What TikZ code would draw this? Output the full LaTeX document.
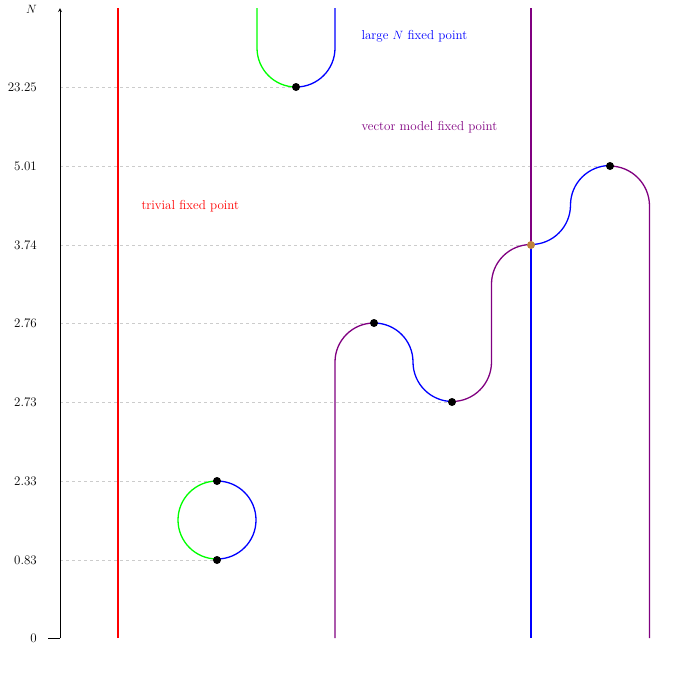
\documentclass[tikz,border=0pt]{standalone}
\begin{document}
\begin{tikzpicture}[x=1pt,y=-1pt,
  grid/.style={gray!40,dashed,line width=0.8pt},
  curve/.style={line width=1.3pt},
  fs/.style={font=\fontsize{13}{15}\selectfont},
  lab/.style={fs,anchor=east,inner sep=1pt},
  dot/.style={circle,fill=black,inner sep=0pt,minimum size=8pt}]
\useasboundingbox (0,0) rectangle (690,683);
\definecolor{pur}{RGB}{128,0,128}
\definecolor{brn}{RGB}{190,130,60}
% grid
\draw[grid] (60,87) -- (296,87);
\draw[grid] (60,166) -- (610,166);
\draw[grid] (60,245) -- (531,245);
\draw[grid] (60,323) -- (374,323);
\draw[grid] (60,402) -- (452,402);
\draw[grid] (60,481) -- (217,481);
\draw[grid] (60,560) -- (217,560);
% axis
\draw[-stealth,line width=0.8pt] (60,638) -- (60,8);
\draw[line width=0.8pt] (48,638) -- (60,638);
\node[lab] at (38,638) {0};
\node[lab] at (38,560) {0.83};
\node[lab] at (38,481) {2.33};
\node[lab] at (38,402) {2.73};
\node[lab] at (38,323) {2.76};
\node[lab] at (38,245) {3.74};
\node[lab] at (38,166) {5.01};
\node[lab] at (38,87) {23.25};
\node[lab] at (38,9) {$N$};
% trivial
\draw[curve,red] (118,638) -- (118,8);
% circle
\draw[curve,green] (217,481) arc[start angle=270,end angle=90,radius=39];
\draw[curve,blue] (217,481) arc[start angle=-90,end angle=90,radius=39];
% top
\draw[curve,green] (257,8) -- (257,48) arc[start angle=180,end angle=90,radius=39];
\draw[curve,blue] (296,87) arc[start angle=90,end angle=0,radius=39] -- (335,8);
% middle chain
\draw[curve,pur] (335,638) -- (335,362) arc[start angle=180,end angle=270,radius=39];
\draw[curve,blue] (374,323) arc[start angle=270,end angle=360,radius=39] arc[start angle=180,end angle=90,radius=39.5];
\draw[curve,pur] (452,401.5) arc[start angle=90,end angle=0,radius=39.5] -- (491.5,284) arc[start angle=180,end angle=270,radius=39.5];
\draw[curve,blue] (531,244.5) arc[start angle=90,end angle=0,radius=39.5] arc[start angle=180,end angle=270,radius=39.5];
\draw[curve,pur] (609.5,166) arc[start angle=270,end angle=360,radius=40] -- (649.5,638);
\draw[curve,pur] (531,8) -- (531,245);
\draw[curve,blue] (531,245) -- (531,638);
% dots
\node[dot] (d1) at (217,481) {};
\node[dot] (d2) at (217,560) {};
\node[dot] (d3) at (296,87) {};
\node[dot] (d4) at (374,323) {};
\node[dot] (d5) at (452,402) {};
\node[dot,fill=brn] (d6) at (531,245) {};
\node[dot] (d7) at (610,166) {};
% labels
\node[fs,anchor=west,text=blue] at (358,36) {large $N$ fixed point};
\node[fs,anchor=west,text=pur] at (358,127) {vector model fixed point};
\node[fs,anchor=west,text=red] at (138,206) {trivial fixed point};
\end{tikzpicture}
\end{document}
